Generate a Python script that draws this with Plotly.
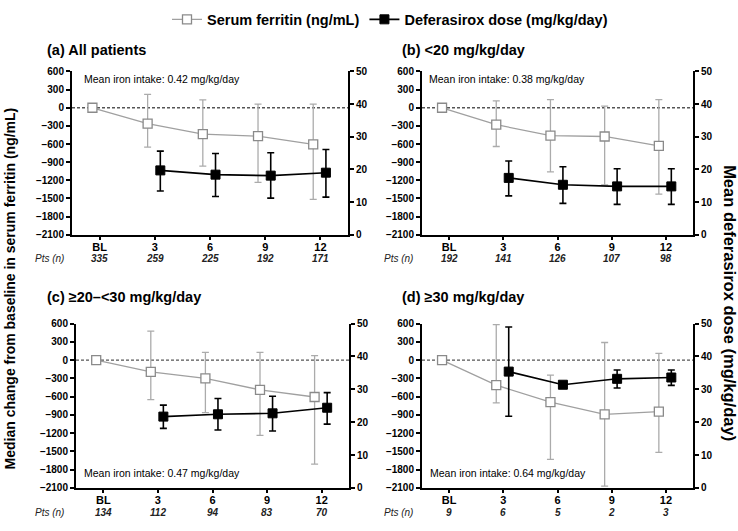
import plotly.graph_objects as go

# ---------------- data ----------------
timepoints = ["BL", "3", "6", "9", "12"]
panel_titles = ["(a) All patients", "(b) <20 mg/kg/day",
                "(c) \u226520\u2013<30 mg/kg/day", "(d) \u226530 mg/kg/day"]
iron_text = ["Mean iron intake: 0.42 mg/kg/day", "Mean iron intake: 0.38 mg/kg/day",
             "Mean iron intake: 0.47 mg/kg/day", "Mean iron intake: 0.64 mg/kg/day"]
pts_n = [[335, 259, 225, 192, 171],
         [192, 141, 126, 107, 98],
         [134, 112, 94, 83, 70],
         [9, 6, 5, 2, 3]]

# Serum ferritin median change (ng/mL) at BL,3,6,9,12 and whisker ends
ferritin_med = [[0, -264, -437, -469, -604],
                [0, -280, -460, -475, -630],
                [0, -193, -300, -488, -606],
                [0, -412, -691, -890, -847]]
ferritin_hi = [[0, 221, 129, 59, 59],
               [0, 113, 135, 27, 135],
               [0, 477, 129, 129, 75],
               [0, 584, -247, 290, 113]]
ferritin_lo = [[0, -652, -965, -1234, -1515],
               [0, -641, -1062, -1277, -1428],
               [0, -649, -863, -1238, -1710],
               [0, -702, -1630, -2070, -1517]]

# Mean deferasirox dose (mg/kg/day) at months 3,6,9,12 and whisker ends
dose_mean = [[19.7, 18.4, 18.1, 19.0],
             [17.4, 15.3, 14.8, 14.8],
             [21.7, 22.4, 22.7, 24.4],
             [35.4, 31.4, 33.2, 33.6]]
dose_hi = [[25.6, 24.9, 25.1, 26.1],
           [22.6, 20.8, 20.2, 20.2],
           [25.2, 27.2, 27.9, 29.0],
           [49.0, 31.4, 35.9, 35.9]]
dose_lo = [[13.4, 11.7, 11.2, 11.5],
           [11.9, 9.6, 9.3, 9.3],
           [18.1, 17.6, 17.3, 19.4],
           [21.8, 31.4, 30.4, 31.2]]

ferritin_ticks = list(range(-2100, 601, 300))
dose_ticks = list(range(0, 51, 10))

# ---------------- layout geometry (pixels) ----------------
W, H = 738, 531
FONT = "Liberation Sans, Arial, sans-serif"
# (left, right, top, bottom) pixel boxes of each panel's plot area
boxes = [(72, 348, 67, 234), (422, 693, 67, 234),
         (76, 349, 325, 493), (422, 693, 325, 493)]
title_pos = [(45, 45), (400, 45), (45, 298), (400, 298)]
iron_pos = [(82, 75), (427, 75), (82, 478), (428, 478)]
pts_label_x = [50, 398, 50, 398]
pts_row_y = [258, 258, 518, 518]

SER_OFF = -0.13
DOSE_OFF = 0.10

fig = go.Figure()
annotations = []
shapes = []
layout_axes = {}

def px_x(p):
    return p / W

def px_y(p):
    return 1 - p / H

for k in range(4):
    xa = "x" if k == 0 else f"x{k+1}"
    ya = "y" if k == 0 else f"y{k+1}"
    ya2 = f"y{k+5}"
    xi = list(range(len(timepoints)))
    ser_x = [i + SER_OFF for i in xi]
    dose_x = [i + 1 + DOSE_OFF for i in range(len(dose_mean[k]))]

    med = ferritin_med[k]
    fig.add_trace(go.Scatter(
        x=ser_x, y=med, xaxis=xa, yaxis=ya,
        mode="lines+markers", name="Serum ferritin (ng/mL)",
        showlegend=(k == 0), legendrank=1,
        line=dict(color="#a0a0a0", width=1.3),
        marker=dict(symbol="square", size=9, color="white",
                    line=dict(color="#8a8a8a", width=1.3)),
        error_y=dict(type="data", symmetric=False,
                     array=[h - m for h, m in zip(ferritin_hi[k], med)],
                     arrayminus=[m - l for l, m in zip(ferritin_lo[k], med)],
                     color="#ababab", thickness=1.3, width=3.5),
        cliponaxis=False,
    ))
    dm = dose_mean[k]
    fig.add_trace(go.Scatter(
        x=dose_x, y=dm, xaxis=xa, yaxis=ya2,
        mode="lines+markers", name="Deferasirox dose (mg/kg/day)",
        showlegend=(k == 0), legendrank=2,
        line=dict(color="black", width=1.6),
        marker=dict(symbol="square", size=9, color="black",
                    line=dict(color="black", width=1)),
        error_y=dict(type="data", symmetric=False,
                     array=[h - m for h, m in zip(dose_hi[k], dm)],
                     arrayminus=[m - l for l, m in zip(dose_lo[k], dm)],
                     color="black", thickness=1.6, width=3.5),
        cliponaxis=False,
    ))

    l, r, t, b = boxes[k]
    axis_font = dict(family=FONT, size=10, color="black", weight="bold")
    xkey = "xaxis" if k == 0 else f"xaxis{k+1}"
    ykey = "yaxis" if k == 0 else f"yaxis{k+1}"
    y2key = f"yaxis{k+5}"
    layout_axes[xkey] = dict(
        domain=[px_x(l), px_x(r)], anchor=ya, range=[-0.5, 4.5],
        tickvals=xi, ticktext=timepoints, showline=True, linecolor="black",
        linewidth=2, ticks="outside", ticklen=3, tickwidth=1.5, tickcolor="black",
        ticklabelstandoff=-2,
        showgrid=False, zeroline=False,
        tickfont=dict(family=FONT, size=11, color="black", weight="bold"),
        fixedrange=True)
    layout_axes[ykey] = dict(
        domain=[px_y(b), px_y(t)], anchor=xa, range=[-2100, 600],
        tickvals=ferritin_ticks, showline=True, linecolor="black", linewidth=2,
        ticks="outside", ticklen=4, tickwidth=1.5, tickcolor="black",
        showgrid=False, zeroline=False, tickfont=axis_font)
    layout_axes[y2key] = dict(
        domain=[px_y(b), px_y(t)], anchor=xa, overlaying=ya, side="right",
        range=[0, 50], tickvals=dose_ticks, showline=True, linecolor="black",
        linewidth=2, ticks="outside", ticklen=4, tickwidth=1.5, tickcolor="black",
        showgrid=False, zeroline=False, tickfont=axis_font)

    shapes.append(dict(type="line", xref=f"{xa} domain", yref=ya,
                       x0=0, x1=1, y0=0, y1=0,
                       line=dict(color="#555555", width=1.3, dash="3px,2px"),
                       layer="below"))

    annotations.append(dict(text=panel_titles[k], xref="paper", yref="paper",
                            x=px_x(title_pos[k][0]), y=px_y(title_pos[k][1]),
                            xanchor="left", yanchor="middle", showarrow=False,
                            font=dict(family=FONT, size=14.5, color="black", weight="bold")))
    annotations.append(dict(text=iron_text[k], xref="paper", yref="paper",
                            x=px_x(iron_pos[k][0]), y=px_y(iron_pos[k][1]),
                            xanchor="left", yanchor="middle", showarrow=False,
                            font=dict(family=FONT, size=10.5, color="black")))
    annotations.append(dict(text="<i>Pts (n)</i>", xref="paper", yref="paper",
                            x=px_x(pts_label_x[k]), y=px_y(pts_row_y[k]),
                            xanchor="center", yanchor="middle", showarrow=False,
                            font=dict(family=FONT, size=10, color="#222222")))
    for i, n in enumerate(pts_n[k]):
        annotations.append(dict(text=f"<i>{n}</i>", xref=xa, yref="paper",
                                x=i, y=px_y(pts_row_y[k]),
                                xanchor="center", yanchor="middle", showarrow=False,
                                font=dict(family=FONT, size=10, color="#222222", weight="bold")))

annotations.append(dict(text="Median change from baseline in serum ferritin (ng/mL)",
                        xref="paper", yref="paper", x=px_x(10), y=px_y(289),
                        textangle=-90, showarrow=False, xanchor="center", yanchor="middle",
                        font=dict(family=FONT, size=14, color="black", weight="bold")))
annotations.append(dict(text="Mean deferasirox dose (mg/kg/day)",
                        xref="paper", yref="paper", x=px_x(730), y=px_y(304),
                        textangle=90, showarrow=False, xanchor="center", yanchor="middle",
                        font=dict(family=FONT, size=16.5, color="black", weight="bold")))

fig.update_layout(
    width=W, height=H, margin=dict(l=0, r=0, t=0, b=0),
    paper_bgcolor="white", plot_bgcolor="white",
    showlegend=True,
    legend=dict(orientation="h", x=390 / W, xanchor="center", y=1.005, yanchor="top",
                font=dict(family=FONT, size=14.5, color="black", weight="bold"),
                itemwidth=30, tracegroupgap=0, bgcolor="rgba(0,0,0,0)"),
    annotations=annotations, shapes=shapes,
    **layout_axes,
)

fig.write_html("out.html")
